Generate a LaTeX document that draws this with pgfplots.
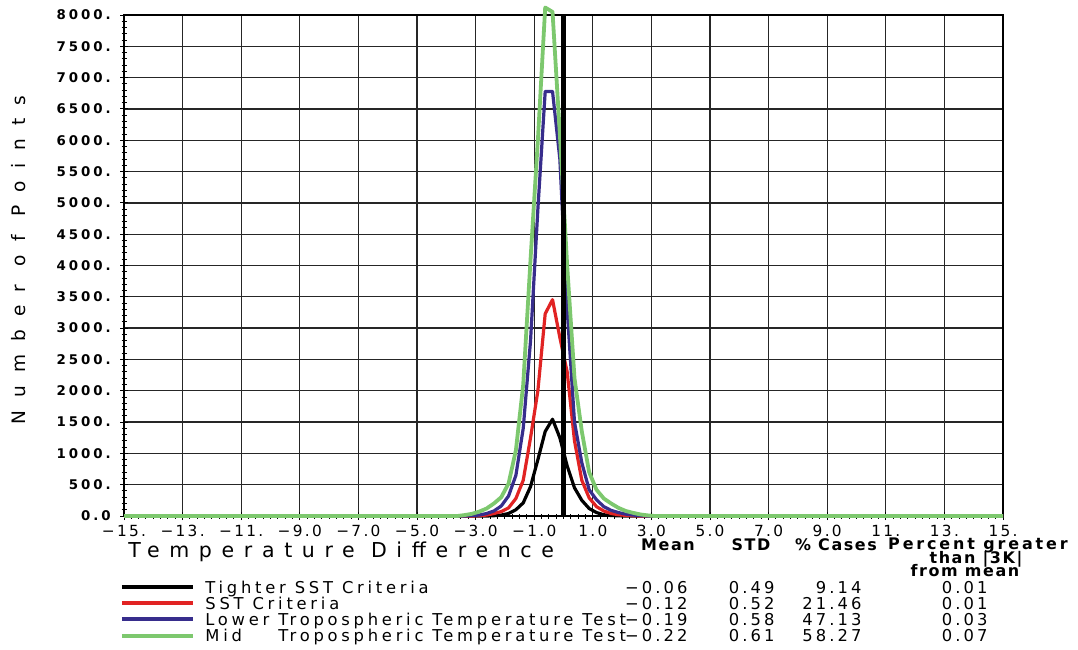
\documentclass[border=0pt]{standalone}
\usepackage{fontspec}
\setmainfont{DejaVu Sans}
\newfontfamily\axlabfont[LetterSpace=47]{DejaVu Sans}
\newfontfamily\ylabfont[LetterSpace=70]{DejaVu Sans}
\newfontfamily\legfont[LetterSpace=23]{DejaVu Sans}
\newfontfamily\numfont[LetterSpace=19]{DejaVu Sans}
\newfontfamily\hdrfont[LetterSpace=10]{DejaVu Sans}
\newfontfamily\hdrwfont[LetterSpace=18]{DejaVu Sans}
\newfontfamily\xtickfont[LetterSpace=15]{DejaVu Sans}
\newfontfamily\ytickfont[LetterSpace=22]{DejaVu Sans}
\usepackage{pgfplots}
\pgfplotsset{compat=1.18}
\usepackage{pgfplotstable}
\definecolor{cred}{RGB}{225,35,35}
\definecolor{cblue}{RGB}{55,45,140}
\definecolor{cgreen}{RGB}{125,200,110}

\pgfplotstableread{
x y
-15 0
-2.625 0
-2.375 5
-2.125 15
-1.875 40
-1.625 100
-1.375 210
-1.125 470
-0.875 900
-0.625 1350
-0.375 1545
-0.125 1250
0.125 800
0.375 450
0.625 250
0.875 120
1.125 55
1.375 20
1.625 8
1.875 3
2.125 0
15 0
}\tightersst

\pgfplotstableread{
x y
-15 0
-3.125 0
-2.875 5
-2.625 15
-2.375 40
-2.125 70
-1.875 130
-1.625 280
-1.375 570
-1.125 1250
-0.875 2000
-0.625 3230
-0.375 3455
-0.125 2850
0.125 2300
0.375 1200
0.625 570
0.875 290
1.125 150
1.375 80
1.625 40
1.875 20
2.125 10
2.375 5
2.625 0
15 0
}\sst

\pgfplotstableread{
x y
-15 0
-3.375 0
-3.125 8
-2.875 15
-2.625 40
-2.375 80
-2.125 160
-1.875 320
-1.625 650
-1.375 1400
-1.125 2800
-0.875 4900
-0.625 6780
-0.375 6780
-0.125 5700
0.125 3300
0.375 1500
0.625 850
0.875 420
1.125 260
1.375 150
1.625 90
1.875 55
2.125 30
2.375 15
2.625 6
2.875 0
15 0
}\lowertrop

\pgfplotstableread{
x y
-15 0
-3.625 0
-3.375 15
-3.125 35
-2.875 70
-2.625 120
-2.375 200
-2.125 300
-1.875 520
-1.625 1050
-1.375 2100
-1.125 4100
-0.875 6000
-0.625 8120
-0.375 8050
-0.125 6100
0.125 4000
0.375 2200
0.625 1350
0.875 700
1.125 420
1.375 280
1.625 200
1.875 130
2.125 80
2.375 50
2.625 25
2.875 10
3.125 0
15 0
}\midtrop

\begin{document}
\begin{tikzpicture}
\begin{axis}[
  scale only axis, width=439.5bp, height=250.5bp,
  xmin=-15, xmax=15, ymin=0, ymax=8000,
  clip=false,
  xtick={-15,-13,...,15},
  xticklabels={−15.,−13.,−11.,−9.0,−7.0,−5.0,−3.0,−1.0,1.0,3.0,5.0,7.0,9.0,11.,13.,15.},
  ytick={0,500,...,8000},
  yticklabels={0.0,500.,1000.,1500.,2000.,2500.,3000.,3500.,4000.,4500.,5000.,5500.,6000.,6500.,7000.,7500.,8000.},
  minor x tick num=7, minor y tick num=4,
  tick align=center, tick pos=left,
  major tick length=4bp, minor tick length=2.5bp,
  grid=major, major grid style={black!85, line width=0.65bp},
  axis line style={black, line width=0.8bp},
  every tick/.style={black, line width=0.5bp},
  xticklabel style={font=\xtickfont\fontsize{7.7}{8}\selectfont, inner sep=1bp, yshift=-1.5bp},
  yticklabel style={font=\ytickfont\bfseries\fontsize{6.7}{7}\selectfont, inner sep=1bp, xshift=-3.5bp},
  scaled y ticks=false,
  every axis plot/.append style={line join=round},
]
\addplot[black, line width=1.6bp] table[x=x,y=y] {\tightersst};
\addplot[cred, line width=1.6bp] table[x=x,y=y] {\sst};
\addplot[cblue, line width=1.6bp] table[x=x,y=y] {\lowertrop};
\addplot[cgreen, line width=1.9bp] table[x=x,y=y] {\midtrop};
\addplot[black, line width=2.5bp] coordinates {(0,0) (0,8000)};
\end{axis}
\begin{scope}[x=0.5bp, y=-0.5bp, shift={(-62bp,258bp)}]
\path[use as bounding box] (0,0) rectangle (1078,650);
\node[rotate=90, inner sep=0] at (19,260) {\ylabfont\fontsize{9.3}{10}\selectfont Number of Points};
\node[anchor=base west, inner sep=0] at (128,558) {\axlabfont\fontsize{10.3}{11}\selectfont Temperature Difference};
\tikzset{hdr/.style={anchor=base, inner sep=0, font=\hdrfont\bfseries\fontsize{8}{9}\selectfont}}
\node[hdr] at (668,551) {Mean};
\node[hdr] at (751,551) {STD};
\node[hdr] at (836,551) {\% Cases};
\node[hdr, font=\hdrwfont\bfseries\fontsize{8}{9}\selectfont] at (978,550) {Percent greater};
\node[hdr] at (976,564) {than |3K|};
\node[hdr] at (965,577) {from mean};
\tikzset{leg/.style={anchor=base west, inner sep=0, font=\legfont\fontsize{8.2}{9}\selectfont},
         num/.style={anchor=base east, inner sep=0, font=\numfont\fontsize{8.2}{9}\selectfont}}
\draw[black, line width=2bp] (122,587) -- (193,587);
\draw[cred, line width=2bp] (122,603) -- (193,603);
\draw[cblue, line width=2bp] (122,619) -- (193,619);
\draw[cgreen, line width=2bp] (122,636) -- (193,636);
\node[leg] at (205,594) {Tighter SST Criteria};
\node[leg] at (205,610) {SST Criteria};
\node[leg] at (205,626) {Lower Tropospheric Temperature Test};
\node[leg] at (205,642) {Mid};
\node[leg] at (205,642) {\phantom{Lower }Tropospheric Temperature Test};
\foreach \yy/\a/\b/\c/\d in {594/−0.06/0.49/9.14/0.01, 610/−0.12/0.52/21.46/0.01, 626/−0.19/0.58/47.13/0.03, 642/−0.22/0.61/58.27/0.07}{
  \node[num] at (688,\yy) {\a};
  \node[num] at (775,\yy) {\b};
  \node[num] at (862,\yy) {\c};
  \node[num] at (988,\yy) {\d};
}
\end{scope}
\end{tikzpicture}
\end{document}
